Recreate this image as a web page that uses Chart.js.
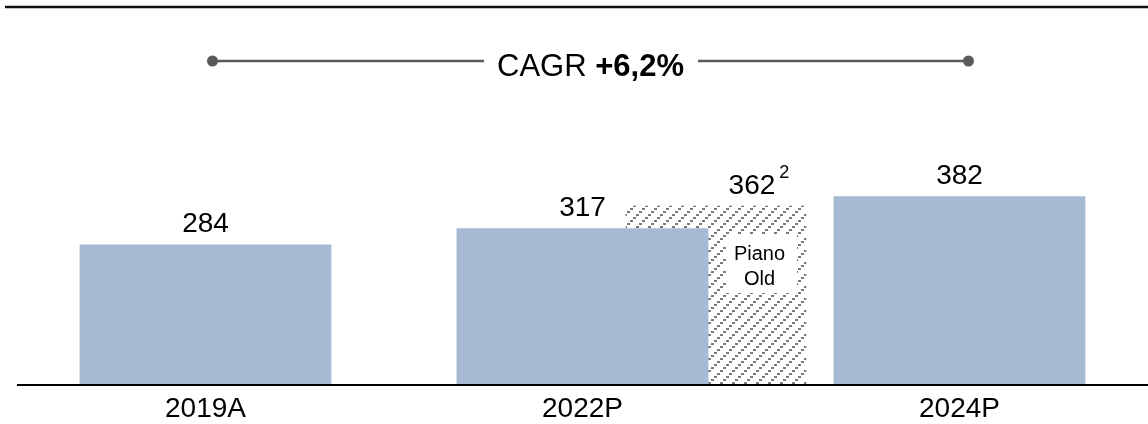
<!DOCTYPE html>
<html>
<head>
<meta charset="utf-8">
<script src="https://cdn.jsdelivr.net/npm/chart.js@4.4.0/dist/chart.umd.min.js"></script>
<style>
  html, body { margin: 0; padding: 0; background: #fff; }
  canvas { display: block; }
</style>
</head>
<body>
<canvas id="chart" width="1148" height="424"></canvas>
<script>
// Revenue by year (actual + plan)
const categories = ['2019A', '2022P', '2024P'];
const revenue = [284, 317, 382];

// Previous plan for 2022, shown as a hatched bar behind the 2022P bar
const oldPlanValue = [362];
const oldPlanPosition = [1.354];           // centre, in category units
const oldPlanNote = '2';                   // footnote marker
const oldPlanLabel = ['Piano', 'Old'];

// Growth banner
const cagrLabel = 'CAGR';
const cagrValue = '+6,2%';

const FONT = '"Liberation Sans", Arial, Helvetica, sans-serif';
const BAR_BLUE = '#A6BBD3';
const HATCH_GREY = '#7a7a7a';
const LINE_GREY = '#5a5a5a';

const canvas = document.getElementById('chart');
const ctx = canvas.getContext('2d');

// Upward diagonal hatch built from small stepped squares
function makeHatch() {
  const tile = document.createElement('canvas');
  tile.width = 12; tile.height = 12;
  const g = tile.getContext('2d');
  g.fillStyle = '#ffffff';
  g.fillRect(0, 0, 12, 12);
  g.fillStyle = HATCH_GREY;
  for (let k = 0; k < 4; k++) g.fillRect(3 * k, 10 - 3 * k, 3, 2);
  return ctx.createPattern(tile, 'repeat');
}

const decorations = {
  id: 'decorations',
  afterDatasetsDraw(chart) {
    const c = chart.ctx;
    const xs = chart.scales.x;
    const area = chart.chartArea;
    c.save();

    // Baseline on top of the bars
    c.strokeStyle = '#000';
    c.lineWidth = 2;
    c.beginPath();
    c.moveTo(area.left, area.bottom + 0.5);
    c.lineTo(area.right, area.bottom + 0.5);
    c.stroke();

    // Top rule
    c.strokeStyle = '#111';
    c.lineWidth = 2.5;
    c.beginPath();
    c.moveTo(5, 7);
    c.lineTo(chart.width, 7);
    c.stroke();

    // CAGR banner between first and last category
    const xL = xs.getPixelForValue(0) + 7;
    const xR = xs.getPixelForValue(2) + 9;
    const yB = 61;
    const mid = (xL + xR) / 2;
    c.font = '31px ' + FONT;
    const wA = c.measureText(cagrLabel + ' ').width;
    c.font = 'bold 31px ' + FONT;
    const wB = c.measureText(cagrValue).width;
    const tStart = mid - (wA + wB) / 2;
    const tEnd = tStart + wA + wB;
    c.strokeStyle = LINE_GREY;
    c.lineWidth = 2.5;
    c.beginPath();
    c.moveTo(xL, yB); c.lineTo(tStart - 13, yB);
    c.moveTo(tEnd + 14, yB); c.lineTo(xR, yB);
    c.stroke();
    c.fillStyle = LINE_GREY;
    [xL, xR].forEach(x => { c.beginPath(); c.arc(x, yB, 5.5, 0, Math.PI * 2); c.fill(); });
    c.fillStyle = '#000';
    c.textBaseline = 'alphabetic';
    c.textAlign = 'left';
    c.font = '31px ' + FONT;
    c.fillText(cagrLabel + ' ', tStart, 76);
    c.font = 'bold 31px ' + FONT;
    c.fillText(cagrValue, tStart + wA, 76);

    // Value labels on the revenue bars
    c.font = '28px ' + FONT;
    c.textAlign = 'center';
    chart.getDatasetMeta(0).data.forEach((bar, i) => {
      c.fillText(String(revenue[i]), bar.x, bar.y - 12);
    });

    // Old-plan bar: value with footnote and the white caption box
    const ob = chart.getDatasetMeta(1).data[0];
    c.textAlign = 'center';
    c.font = '28px ' + FONT;
    const vx = ob.x + 36;
    c.fillText(String(oldPlanValue[0]), vx, ob.y - 12);
    const vw = c.measureText(String(oldPlanValue[0])).width;
    c.textAlign = 'left';
    c.font = '18px ' + FONT;
    c.fillText(oldPlanNote, vx + vw / 2 + 4, ob.y - 28);

    const boxL = ob.x + 10, boxR = ob.x + 81;
    const boxT = ob.y + 28, boxB = ob.y + 87;
    c.fillStyle = '#fff';
    c.fillRect(boxL, boxT, boxR - boxL, boxB - boxT);
    c.fillStyle = '#000';
    c.textAlign = 'center';
    c.textBaseline = 'middle';
    c.font = '20px ' + FONT;
    const cx = (boxL + boxR) / 2;
    c.fillText(oldPlanLabel[0], cx - 2, ob.y + 48);
    c.fillText(oldPlanLabel[1], cx - 2, ob.y + 73);

    c.restore();
  }
};

new Chart(ctx, {
  type: 'bar',
  data: {
    labels: categories,
    datasets: [
      {
        label: 'Ricavi',
        data: revenue,
        xAxisID: 'x',
        yAxisID: 'y',
        backgroundColor: BAR_BLUE,
        borderWidth: 0,
        categoryPercentage: 1,
        barPercentage: 0.668,
        grouped: false,
        order: 1
      },
      {
        label: 'Piano Old',
        data: oldPlanValue.map((v, i) => ({ x: oldPlanPosition[i], y: v })),
        xAxisID: 'x2',
        yAxisID: 'y',
        backgroundColor: makeHatch(),
        borderWidth: 0,
        barThickness: 180,
        grouped: false,
        order: 2
      }
    ]
  },
  options: {
    responsive: false,
    animation: false,
    devicePixelRatio: 1,
    layout: { padding: { top: 138, left: 17, right: 0, bottom: -10 } },
    plugins: {
      legend: { display: false },
      tooltip: { enabled: false }
    },
    scales: {
      x: {
        type: 'category',
        offset: true,
        grid: { display: false, drawTicks: false },
        border: { display: false },
        ticks: { color: '#000', font: { family: FONT, size: 28 }, padding: 8 }
      },
      x2: {
        type: 'linear',
        display: false,
        offset: false,
        min: -0.5,
        max: 2.5
      },
      y: {
        display: false,
        min: 0,
        max: 500
      }
    }
  },
  plugins: [decorations]
});
</script>
</body>
</html>
